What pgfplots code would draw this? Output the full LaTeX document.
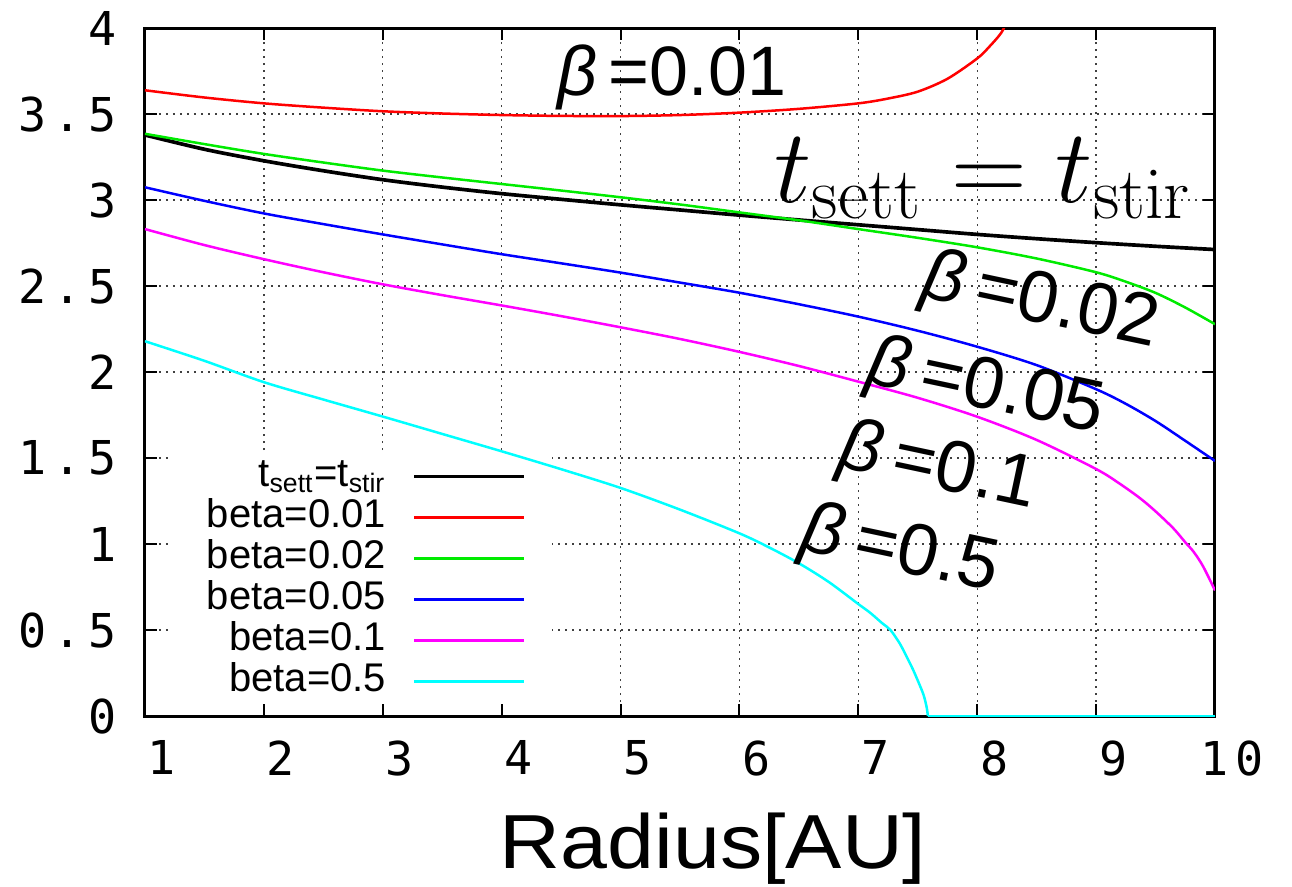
\RequirePackage{fix-cm}
\documentclass[border=0pt]{standalone}
\usepackage[no-math]{fontspec}
\usepackage{pgfplots}
\pgfplotsset{compat=1.18}
\setmainfont{Liberation Sans}
\newfontfamily\ticfont[LetterSpace=15]{DejaVu Sans Mono}
\newfontfamily\labfont{Liberation Sans}
\definecolor{cgreen}{RGB}{0,235,0}
\definecolor{cmag}{RGB}{255,0,255}
\definecolor{ccyan}{RGB}{0,255,255}
\definecolor{cblue}{RGB}{0,0,255}
\definecolor{cred}{RGB}{255,0,0}
\begin{document}
\begin{tikzpicture}
\begin{axis}[
  width=321pt, height=206.4pt, scale only axis,
  xmin=1, xmax=10, ymin=0, ymax=4,
  xtick={1,2,...,10}, ytick={0,0.5,...,4},
  grid=major,
  major grid style={black!75, line width=0.4pt, dash pattern=on 0.6pt off 1.5pt},
  axis line style={line width=0.9pt},
  tick style={black, line width=0.6pt},
  major tick length=3.6pt,
  /pgf/number format/assume math mode=true,
  ticklabel style={font=\ticfont\fontsize{14}{14}\selectfont},
  yticklabel style={inner sep=0pt, xshift=-8.4pt},
  xticklabel style={inner sep=0pt, yshift=-7.2pt, xshift=5.1pt},
  xlabel={\scalebox{1.1}[1]{Radius[AU]}},
  xlabel style={font=\labfont\fontsize{23}{23}\selectfont, at={(axis description cs:0.531,0)}, anchor=base, yshift=-45.6pt, inner sep=0pt},
  legend style={draw=none, fill=none, at={(axis description cs:0.357,0.02)}, anchor=south east, inner sep=0pt, font=\labfont\fontsize{12}{12}\selectfont, row sep=0.3pt, column sep=8pt, nodes={inner sep=0pt, text height=9pt, text depth=3pt}},
  legend cell align=right, legend plot pos=right,
  legend image code/.code={\draw[#1] (0pt,0pt) -- (33pt,0pt);},
]
\fill[white] (axis cs:1.21,0.075) rectangle (axis cs:4.42,1.53);

\addplot[black, line width=1.1pt, smooth] table {
x y
1 3.378
1.5 3.295
2 3.228
2.5 3.170
3 3.118
3.5 3.075
4 3.037
4.5 3.004
5 2.972
5.5 2.942
6 2.912
6.5 2.884
7 2.856
7.5 2.828
8 2.800
8.5 2.775
9 2.752
9.5 2.731
10 2.712
};
\addlegendentry{t\textsubscript{sett}=t\textsubscript{stir}}

\addplot[cred, line width=0.75pt, smooth] table {
x y
1 3.638
1.5 3.596
2 3.562
2.5 3.537
3 3.516
3.5 3.503
4 3.494
4.5 3.489
5 3.488
5.5 3.494
6 3.508
6.5 3.530
7 3.562
7.25 3.590
7.5 3.630
7.75 3.705
8 3.823
8.1 3.890
8.2 3.970
8.26 4.050
};
\addlegendentry{beta=0.01}

\addplot[cgreen, line width=0.75pt, smooth] table {
x y
1 3.385
1.5 3.325
2 3.268
2.5 3.218
3 3.171
3.5 3.131
4 3.093
4.5 3.055
5 3.016
5.5 2.974
6 2.928
6.5 2.882
7 2.831
7.5 2.780
8 2.725
8.5 2.660
9 2.580
9.25 2.525
9.5 2.460
9.75 2.375
10 2.278
};
\addlegendentry{beta=0.02}

\addplot[cblue, line width=0.75pt, smooth] table {
x y
1 3.074
1.5 2.995
2 2.922
2.5 2.860
3 2.800
3.5 2.742
4 2.685
4.5 2.632
5 2.578
5.5 2.520
6 2.461
6.5 2.394
7 2.322
7.5 2.240
8 2.147
8.5 2.040
9 1.900
9.25 1.815
9.5 1.715
9.75 1.600
10 1.483
};
\addlegendentry{beta=0.05}

\addplot[cmag, line width=0.75pt, smooth] table {
x y
1 2.831
1.5 2.738
2 2.656
2.5 2.580
3 2.510
3.5 2.447
4 2.387
4.5 2.325
5 2.260
5.5 2.192
6 2.117
6.5 2.035
7 1.944
7.5 1.850
8 1.740
8.5 1.605
9 1.436
9.2 1.350
9.37 1.266
9.5 1.190
9.65 1.091
9.75 1.010
9.82 0.955
9.9 0.870
10 0.730
};
\addlegendentry{beta=0.1}

\addplot[ccyan, line width=0.75pt, smooth] table {
x y
1 2.179
1.5 2.065
2 1.941
2.5 1.840
3 1.741
3.5 1.640
4 1.539
4.5 1.435
5 1.326
5.5 1.200
6 1.062
6.25 0.980
6.5 0.888
6.75 0.780
7 0.651
7.1 0.600
7.2 0.540
7.27 0.500
7.35 0.420
7.42 0.326
7.46 0.270
7.51 0.190
7.55 0.120
7.575 0.050
7.585 0.000
};
\addlegendentry{beta=0.5}
\addplot[ccyan, line width=0.75pt, forget plot] table {
x y
7.585 0.000
10 0.000
};

\node[font=\labfont\fontsize{21}{21}\selectfont, anchor=base] at (axis cs:5.43,3.61) {{\itshape β}\,=0.01};
\node[font=\fontsize{31.5}{31.5}\selectfont, anchor=base] at (axis cs:8.05,2.983) {$t_{\mathrm{sett}} = t_{\mathrm{stir}}$};
\node[font=\labfont\fontsize{22}{22}\selectfont, rotate=-12] at (axis cs:8.53,2.40) {{\itshape β}\,=0.02};
\node[font=\labfont\fontsize{22}{22}\selectfont, rotate=-12] at (axis cs:8.07,1.90) {{\itshape β}\,=0.05};
\node[font=\labfont\fontsize{22}{22}\selectfont, rotate=-12] at (axis cs:7.67,1.436) {{\itshape β}\,=0.1};
\node[font=\labfont\fontsize{22}{22}\selectfont, rotate=-12] at (axis cs:7.35,0.953) {{\itshape β}\,=0.5};
\end{axis}
\pgfresetboundingbox
\useasboundingbox (-43.5pt,-51pt) rectangle (344.1pt,214.8pt);
\end{tikzpicture}
\end{document}
